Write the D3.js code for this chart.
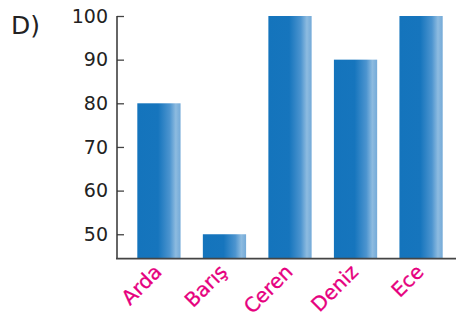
<!DOCTYPE html>
<html>
<head>
<meta charset="utf-8">
<script src="https://cdn.jsdelivr.net/npm/d3@7"></script>
<style>
    body { margin: 0; background: #fff; }
    svg { display: block; }
</style>
</head>
<body>
<div id="chart"></div>
<script>
var names = ["Arda", "Barış", "Ceren", "Deniz", "Ece"];
var scores = [80, 50, 100, 90, 100];
var yTicks = [50, 60, 70, 80, 90, 100];

var width = 456, height = 318;

var svg = d3.select("#chart").append("svg")
    .attr("width", width)
    .attr("height", height);

// gradient used by every bar: flat blue then a light strip near the right edge
var grad = svg.append("defs").append("linearGradient")
    .attr("id", "barGrad")
    .attr("x1", "0%").attr("x2", "100%")
    .attr("y1", "0%").attr("y2", "0%");
grad.append("stop").attr("offset", "0%").attr("stop-color", "#1474bc");
grad.append("stop").attr("offset", "48%").attr("stop-color", "#1675bd");
grad.append("stop").attr("offset", "75%").attr("stop-color", "#4c94cf");
grad.append("stop").attr("offset", "89%").attr("stop-color", "#8dbbe0");
grad.append("stop").attr("offset", "100%").attr("stop-color", "#74aad8");

var x = d3.scaleBand()
    .domain(names)
    .range([117, 463])
    .paddingInner(0.34)
    .paddingOuter(0.31);

var y = d3.scaleLinear()
    .domain([44.4, 100])
    .range([258.7, 16]);

// bars
svg.append("g").selectAll("rect")
    .data(names)
    .enter()
    .append("rect")
    .attr("x", function (d) { return x(d); })
    .attr("y", function (d, i) { return y(scores[i]); })
    .attr("width", x.bandwidth())
    .attr("height", function (d, i) { return y.range()[0] - y(scores[i]); })
    .attr("fill", "url(#barGrad)");

// y axis, ticks point inward
var yAxis = svg.append("g")
    .attr("transform", "translate(117,0)")
    .call(d3.axisRight(y).tickValues(yTicks).tickSize(7).tickFormat(""));
yAxis.select(".domain").remove();
yAxis.selectAll(".tick line").attr("stroke", "#444").attr("stroke-width", 1.3);

svg.append("line")
    .attr("x1", 117).attr("x2", 117)
    .attr("y1", 16).attr("y2", y.range()[0])
    .attr("stroke", "#333").attr("stroke-width", 1.5);

svg.append("line")
    .attr("x1", 116).attr("x2", 456)
    .attr("y1", y.range()[0]).attr("y2", y.range()[0])
    .attr("stroke", "#444").attr("stroke-width", 1.8);

svg.append("g").selectAll("text")
    .data(yTicks)
    .enter()
    .append("text")
    .attr("x", 108)
    .attr("y", function (d) { return y(d); })
    .attr("dy", "0.36em")
    .attr("text-anchor", "end")
    .style("font-family", "'DejaVu Sans', sans-serif")
    .style("font-size", "19px")
    .attr("fill", "#222")
    .text(function (d) { return d; });

// rotated category labels
svg.append("g").selectAll("text")
    .data(names)
    .enter()
    .append("text")
    .attr("transform", function (d) {
        return "translate(" + (x(d) + x.bandwidth() / 2 + 4) + ",273) rotate(-45)";
    })
    .attr("text-anchor", "end")
    .style("font-family", "'DejaVu Sans', sans-serif")
    .style("font-size", "20px")
    .attr("fill", "#e6007e")
    .attr("stroke", "#e6007e")
    .attr("stroke-width", 0.3)
    .text(function (d) { return d; });

svg.append("text")
    .attr("x", 11)
    .attr("y", 34)
    .style("font-family", "'DejaVu Sans', sans-serif")
    .style("font-size", "25px")
    .attr("fill", "#222")
    .text("D)");
</script>
</body>
</html>
